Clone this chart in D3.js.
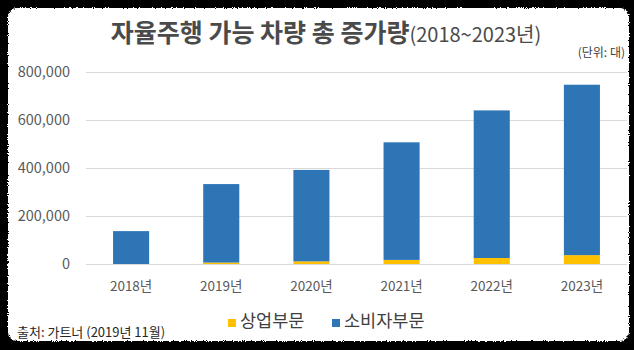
<!DOCTYPE html>
<html>
<head>
<meta charset="utf-8">
<script src="https://cdn.jsdelivr.net/npm/d3@7"></script>
<style>
  html, body { margin: 0; padding: 0; background: #000; }
  svg { display: block; }
</style>
</head>
<body>
<svg id="chart" width="634" height="350"></svg>
<script>
// Years on the category axis
const years = ["2018년", "2019년", "2020년", "2021년", "2022년", "2023년"];
// Net additions by segment (units: vehicles)
const commercial = [0, 6000, 11000, 17000, 25000, 37000];
const consumer = [137000, 327000, 381000, 490000, 615000, 710000];
// Series names, used for the legend
const seriesNames = ["상업부문", "소비자부문"];
const seriesColors = ["#FFC000", "#2E75B6"];
// Value axis ticks
const yTicks = [0, 200000, 400000, 600000, 800000];

const W = 634, H = 350;
const svg = d3.select("#chart");
const font = "'Noto Sans CJK KR', 'Noto Sans', sans-serif";

// Roughened edge for the white card
const defs = svg.append("defs");
const f = defs.append("filter").attr("id", "rough")
  .attr("x", "-5%").attr("y", "-5%").attr("width", "110%").attr("height", "110%");
f.append("feTurbulence").attr("type", "fractalNoise").attr("baseFrequency", 0.9)
  .attr("numOctaves", 2).attr("seed", 3).attr("result", "noise");
f.append("feDisplacementMap").attr("in", "SourceGraphic").attr("in2", "noise")
  .attr("scale", 4).attr("xChannelSelector", "R").attr("yChannelSelector", "G");

svg.append("rect").attr("width", W).attr("height", H).attr("fill", "#000");
svg.append("rect")
  .attr("x", 8).attr("y", 8).attr("width", 621).attr("height", 333)
  .attr("rx", 9).attr("fill", "#fff").attr("filter", "url(#rough)");

const card = svg.append("g");
const clip = defs.append("clipPath").attr("id", "cardClip");
clip.append("rect").attr("x", 10).attr("y", 10).attr("width", 617).attr("height", 329).attr("rx", 8);

// Title
const title = card.append("text")
  .attr("x", 326).attr("y", 42)
  .attr("text-anchor", "middle")
  .attr("font-family", font)
  .attr("fill", "#4a4a4a");
title.append("tspan").attr("font-size", 25).attr("font-weight", 700).text("자율주행 가능 차량 총 증가량");
title.append("tspan").attr("font-size", 20).attr("font-weight", 400).text("(2018~2023년)");

card.append("text")
  .attr("x", 625).attr("y", 57)
  .attr("text-anchor", "end")
  .attr("font-family", font).attr("font-size", 12)
  .attr("fill", "#404040")
  .text("(단위: 대)");

// Scales
const x = d3.scaleBand().domain(years).range([86, 627]).paddingInner(0.6).paddingOuter(0.3);
const y = d3.scaleLinear().domain([0, 800000]).range([264, 72]);

const plot = card.append("g").attr("clip-path", "url(#cardClip)");

// Gridlines
plot.append("g")
  .selectAll("line")
  .data(yTicks)
  .join("line")
  .attr("x1", 86).attr("x2", 627)
  .attr("y1", d => Math.round(y(d)) + 0.5).attr("y2", d => Math.round(y(d)) + 0.5)
  .attr("stroke", "#D9D9D9").attr("stroke-width", 1.2);

// Stacked bars
const rows = years.map((yr, i) => ({ year: yr, c: commercial[i], s: consumer[i] }));
const stack = d3.stack().keys(["c", "s"])(rows);
plot.append("g")
  .selectAll("g")
  .data(stack)
  .join("g")
  .attr("fill", (d, i) => seriesColors[i])
  .selectAll("rect")
  .data(d => d)
  .join("rect")
  .attr("x", d => x(d.data.year))
  .attr("width", x.bandwidth())
  .attr("y", d => y(d[1]))
  .attr("height", d => y(d[0]) - y(d[1]));

// Y axis labels
const yAxis = d3.axisLeft(y).tickValues(yTicks).tickSize(0).tickPadding(0)
  .tickFormat(d3.format(","));
const ya = card.append("g").attr("transform", "translate(70,0)").call(yAxis);
ya.select(".domain").remove();
ya.selectAll("text")
  .attr("font-family", font).attr("font-size", 14.5).attr("fill", "#595959");

// X axis labels
const xAxis = d3.axisBottom(x).tickSize(0).tickPadding(0);
const xa = card.append("g").attr("transform", "translate(0,281)").call(xAxis);
xa.select(".domain").remove();
xa.selectAll("text")
  .attr("font-family", font).attr("font-size", 13.5).attr("fill", "#595959");

// Legend
const legend = card.append("g").attr("transform", "translate(0,327)");
const legendX = [228, 332];
seriesNames.forEach((name, i) => {
  const g = legend.append("g").attr("transform", `translate(${legendX[i]},0)`);
  g.append("rect").attr("x", 0).attr("y", -8).attr("width", 8).attr("height", 8)
    .attr("fill", seriesColors[i]);
  g.append("text").attr("x", 12).attr("y", 0)
    .attr("font-family", font).attr("font-size", 17.5).attr("fill", "#404040")
    .text(name);
});

// Source note
card.append("text")
  .attr("x", 17).attr("y", 337)
  .attr("font-family", font).attr("font-size", 13).attr("fill", "#262626")
  .text("출처: 가트너 (2019년 11월)");
</script>
</body>
</html>
